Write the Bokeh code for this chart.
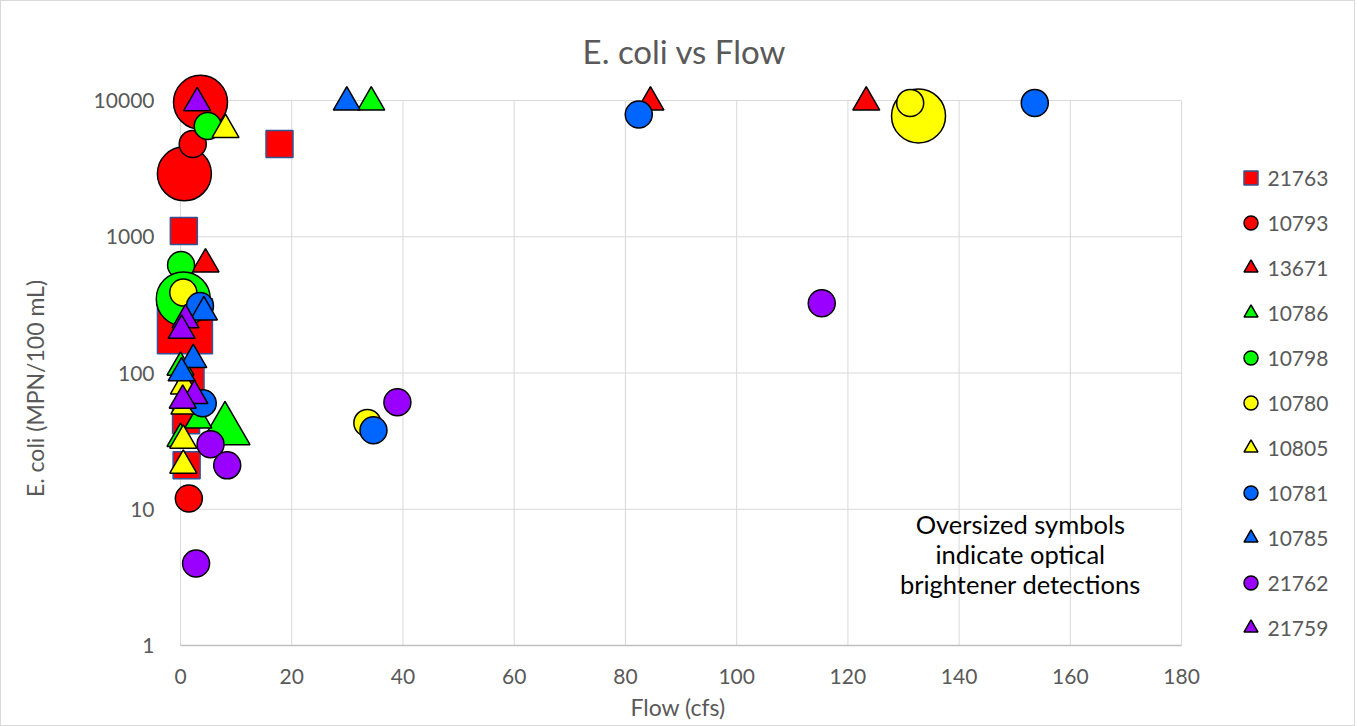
import math
from bokeh.plotting import figure
from bokeh.models import (Range1d, ColumnDataSource, Legend, LegendItem, FixedTicker,
                          CustomJSTickFormatter)
from bokeh.core.properties import value
from bokeh.embed import file_html
from bokeh.resources import INLINE

# ---------------- data ----------------
title_text = "E. coli vs Flow"
x_label = "Flow (cfs)"
y_label = "E. coli (MPN/100 mL)"
x_ticks = [0, 20, 40, 60, 80, 100, 120, 140, 160, 180]
y_ticks = [1, 10, 100, 1000, 10000]
note_lines = ["Oversized symbols", "indicate optical", "brightener detections"]

# ob = optical brightener detected (1 = yes)
s21763_x = [0.8, 17.8, 0.6, 1.8, 1.0, 1.1]
s21763_y = [220, 4800, 1100, 90, 45, 21]
s21763_ob = [1, 0, 0, 0, 0, 0]

s10793_x = [3.6, 0.7, 2.2, 1.5]
s10793_y = [9700, 2900, 4800, 12]
s10793_ob = [1, 1, 0, 0]

s13671_x = [4.5, 84.5, 123.3]
s13671_y = [630, 9700, 9700]
s13671_ob = [0, 0, 0]

s10786_x = [34.3, 8.0, 3.2, 0.0, 0.0]
s10786_y = [9700, 38, 45, 110, 33]
s10786_ob = [0, 1, 0, 0, 0]

s10798_x = [4.9, 0.1, 0.5]
s10798_y = [6500, 620, 350]
s10798_ob = [0, 0, 1]

s10780_x = [132.7, 131.2, 0.5, 33.6]
s10780_y = [7700, 9600, 390, 43]
s10780_ob = [1, 0, 0, 0]

s10805_x = [8.1, 0.6, 0.7, 0.5, 0.5]
s10805_y = [6100, 80, 57, 32, 21]
s10805_ob = [0, 0, 0, 0, 0]

s10781_x = [153.6, 82.4, 34.7, 3.5, 4.0]
s10781_y = [9600, 7900, 38, 310, 60]
s10781_ob = [0, 0, 0, 0, 0]

s10785_x = [29.9, 4.2, 2.3, 0.2]
s10785_y = [9700, 280, 125, 100]
s10785_ob = [0, 0, 0, 0]

s21762_x = [115.3, 39.0, 5.4, 8.4, 2.8]
s21762_y = [325, 61, 30, 21, 4]
s21762_ob = [0, 0, 0, 0, 0]

s21759_x = [3.0, 0.9, 0.2, 2.5, 0.4]
s21759_y = [9600, 245, 205, 68, 63]
s21759_ob = [0, 0, 0, 0, 0]

series = [
    ("21763", "square", "#FF0000", s21763_x, s21763_y, s21763_ob),
    ("10793", "circle", "#FF0000", s10793_x, s10793_y, s10793_ob),
    ("13671", "triangle", "#FF0000", s13671_x, s13671_y, s13671_ob),
    ("10786", "triangle", "#00FF00", s10786_x, s10786_y, s10786_ob),
    ("10798", "circle", "#00FF00", s10798_x, s10798_y, s10798_ob),
    ("10780", "circle", "#FFFF00", s10780_x, s10780_y, s10780_ob),
    ("10805", "triangle", "#FFFF00", s10805_x, s10805_y, s10805_ob),
    ("10781", "circle", "#0066FF", s10781_x, s10781_y, s10781_ob),
    ("10785", "triangle", "#0066FF", s10785_x, s10785_y, s10785_ob),
    ("21762", "circle", "#9900FF", s21762_x, s21762_y, s21762_ob),
    ("21759", "triangle", "#9900FF", s21759_x, s21759_y, s21759_ob),
]

# ---------------- styles ----------------
FONT = "Lato"
TXT = "#595959"
GRID = "#D9D9D9"
marker_sizes = {"circle": (27, 54), "square": (27, 55), "triangle": (27, 50)}
marker_lines = {"circle": "#000000", "square": "#2F5597", "triangle": "#000000"}

# The frame covers the whole chart area so that title, axis title and legend are
# drawn inside it; the scales are chosen so that x=0..180 and y=1..10000 land on the
# reference's plot area.
p = figure(
    frame_width=1353, frame_height=656,
    x_range=Range1d(-32.185, 211.09), y_range=Range1d(0.8166, 53290),
    y_axis_type="log",
    output_backend="svg", toolbar_location=None,
    min_border_left=0, min_border_right=0, min_border_top=0, min_border_bottom=68,
)
p.outline_line_color = None
p.xgrid.visible = False
p.ygrid.visible = False
p.styles = {"border": "1px solid #D9D9D9"}

# gridlines
p.segment(x0=x_ticks, y0=[y_ticks[0]] * len(x_ticks), x1=x_ticks, y1=[y_ticks[-1]] * len(x_ticks),
          line_color=GRID, line_width=1)
p.segment(x0=[x_ticks[0]] * len(y_ticks), y0=y_ticks, x1=[x_ticks[-1]] * len(y_ticks), y1=y_ticks,
          line_color=GRID, line_width=1)
p.segment(x0=[x_ticks[0]], y0=[y_ticks[0]], x1=[x_ticks[-1]], y1=[y_ticks[0]],
          line_color="#BFBFBF", line_width=1.5)

# axes
for ax in (p.xaxis[0], p.yaxis[0]):
    ax.axis_line_color = None
    ax.major_tick_line_color = None
    ax.minor_tick_line_color = None
    ax.major_label_text_font = FONT
    ax.major_label_text_font_size = "21px"
    ax.major_label_text_color = TXT
    ax.axis_label_text_font = FONT
    ax.axis_label_text_font_size = "23px"
    ax.axis_label_text_color = TXT
    ax.axis_label_text_font_style = "normal"

p.xaxis.ticker = FixedTicker(ticks=x_ticks)
p.xaxis.major_label_standoff = 5
p.xaxis.axis_label = x_label
p.xaxis.axis_label_standoff = 6

p.yaxis.ticker = FixedTicker(ticks=y_ticks)
p.yaxis.formatter = CustomJSTickFormatter(code="return tick.toFixed(0)")
p.yaxis.fixed_location = x_ticks[0]
p.yaxis.major_label_standoff = 20

# title and y-axis title
p.text(x=[90.6], y=[23280], text=[title_text], text_font=value(FONT), text_font_size="33px",
       text_color=TXT, text_align="center", text_baseline="middle")
p.text(x=[-26.1], y=[77], text=[y_label], text_font=value(FONT), text_font_size="23px",
       text_color=TXT, text_align="center", text_baseline="middle", angle=math.pi / 2)

# markers
items = []
for name, marker, color, xs, ys, ob in series:
    small, big = marker_sizes[marker]
    sizes = [big if o else small for o in ob]
    src = ColumnDataSource(dict(x=xs, y=ys, size=sizes))
    r = p.scatter("x", "y", source=src, marker=marker, size="size",
                  fill_color=color, line_color=marker_lines[marker], line_width=1.5)
    items.append(LegendItem(label=name, renderers=[r]))

# note
note_y = [7.86, 4.73, 2.85]
p.text(x=[151] * 3, y=note_y, text=note_lines, text_font=value(FONT), text_font_size="25.5px",
       text_color="#000000", text_align="center", text_baseline="middle")

legend = Legend(items=items, location=(1231.5, 12), glyph_width=35, glyph_height=35,
                label_height=20, spacing=10, padding=0, margin=0, label_standoff=0,
                border_line_color=None, background_fill_alpha=0,
                label_text_font=FONT, label_text_font_size="21px", label_text_color=TXT)
p.add_layout(legend)

open("out.html", "w").write(file_html(p, INLINE))
